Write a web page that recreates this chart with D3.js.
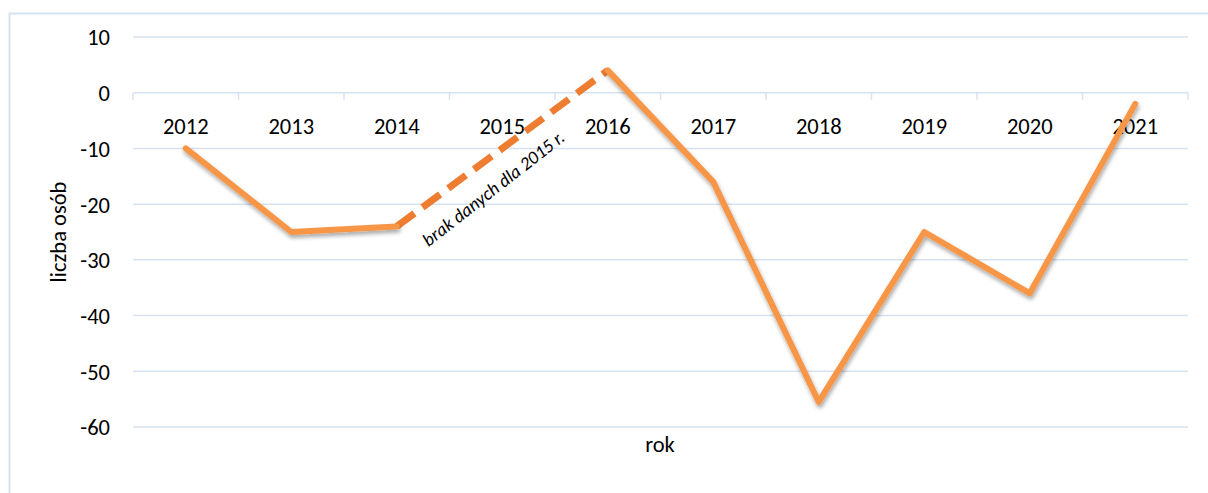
<!DOCTYPE html>
<html><head><meta charset="utf-8">
<script src="https://cdn.jsdelivr.net/npm/d3@7"></script>
<style>body{margin:0;background:#fff}svg{display:block}text{font-family:Carlito,Lato,"Open Sans",sans-serif;fill:#000}</style>
</head><body>
<script>
const years = ["2012","2013","2014","2015","2016","2017","2018","2019","2020","2021"];
const values = [-10, -25, -24, null, 4, -16, -55.5, -25, -36, -2];
const yTicks = [10, 0, -10, -20, -30, -40, -50, -60];
const annotation = "brak danych dla 2015 r.";

const W = 1208, H = 493;
const svg = d3.select("body").append("svg").attr("width", W).attr("height", H);

svg.append("defs").append("filter").attr("id","sh").attr("x","-10%").attr("y","-10%").attr("width","120%").attr("height","130%")
  .html('<feGaussianBlur in="SourceAlpha" stdDeviation="2"/><feOffset dx="1" dy="3" result="b"/><feComponentTransfer><feFuncA type="linear" slope="0.35"/></feComponentTransfer><feMerge><feMergeNode/><feMergeNode in="SourceGraphic"/></feMerge>');

// outer border
svg.append("rect").attr("x",9.5).attr("y",13.5).attr("width",W+10).attr("height",H+10)
  .attr("fill","none").attr("stroke","#d6e1f1").attr("stroke-width",2);

const x = d3.scaleBand().domain(years).range([133, 1188]);
const y = d3.scaleLinear().domain([-60, 10]).range([427, 37]);

// gridlines
svg.append("g").selectAll("line").data(yTicks.filter(d=>d!==0)).join("line")
  .attr("x1",133).attr("x2",1188).attr("y1",d=>y(d)).attr("y2",d=>y(d))
  .attr("stroke","#d6e1f1").attr("stroke-width",1.5);

// y axis labels
const yAxis = d3.axisLeft(y).tickValues(yTicks).tickSize(0).tickPadding(0).tickFormat(d => String(d));
const gy = svg.append("g").attr("transform","translate(110,0)").call(yAxis);
gy.select(".domain").remove();
gy.selectAll("text").style("font-size","22.5px").attr("dy","0.35em").attr("fill","#000");

// zero axis with tick marks at category boundaries
const y0 = y(0);
svg.append("line").attr("x1",133).attr("x2",1188).attr("y1",y0).attr("y2",y0)
  .attr("stroke","#d6e1f1").attr("stroke-width",1.5);
const bounds = years.map(d=>x(d)).concat([x.range()[1]]);
svg.append("g").selectAll("line").data(bounds).join("line")
  .attr("x1",d=>d).attr("x2",d=>d).attr("y1",y0).attr("y2",y0+7)
  .attr("stroke","#d6e1f1").attr("stroke-width",1.5);

// category labels
const xAxis = d3.axisBottom(x).tickSize(0).tickPadding(0);
const gx = svg.append("g").attr("transform",`translate(0,${y0+41})`).call(xAxis);
gx.select(".domain").remove();
gx.selectAll("text").style("font-size","22.5px").attr("dy","0").attr("fill","#000");

const cx = d => x(d) + x.bandwidth()/2;
const pts = years.map((d,i)=>({d, v: values[i]}));

// dashed bridge across the missing year
const before = pts[2], after = pts[4];
svg.append("line")
  .attr("x1",cx(before.d)).attr("y1",y(before.v)).attr("x2",cx(after.d)).attr("y2",y(after.v))
  .attr("stroke","#ed7d31").attr("stroke-width",7).attr("stroke-dasharray","22,10");

// solid series
const line = d3.line().defined(p=>p.v!==null).x(p=>cx(p.d)).y(p=>y(p.v));
svg.append("path").datum(pts).attr("d",line).attr("fill","none")
  .attr("stroke","#f79646").attr("stroke-width",6).attr("stroke-linejoin","round").attr("stroke-linecap","round")
  .attr("filter","url(#sh)");

// annotation
const ax = (cx(before.d)+cx(after.d))/2, ay = (y(before.v)+y(after.v))/2;
svg.append("text").attr("transform",`translate(${ax-5},${ay+45}) rotate(-38)`)
  .attr("text-anchor","middle").style("font-size","18.5px").style("font-style","italic").text(annotation);

// axis titles
svg.append("text").attr("transform","translate(66,232) rotate(-90)").attr("text-anchor","middle")
  .style("font-size","22.5px").text("liczba osób");
svg.append("text").attr("x",660).attr("y",452).attr("text-anchor","middle").style("font-size","22.5px").text("rok");
</script>
</body></html>
